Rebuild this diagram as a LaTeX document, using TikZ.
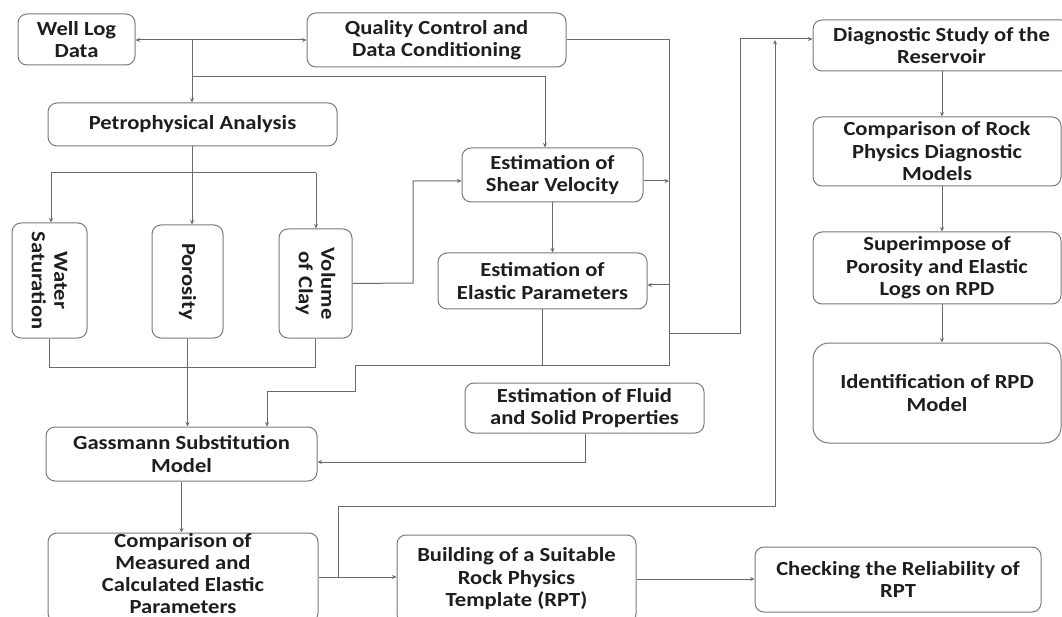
\documentclass[tikz,border=0pt]{standalone}
\usepackage{fontspec}
\setmainfont{Carlito}[FakeStretch=1.13]
\usetikzlibrary{arrows.meta}
\definecolor{bordc}{HTML}{7A7A7A}
\definecolor{linec}{HTML}{6A6A6A}
\definecolor{txtc}{HTML}{1E1E1E}
\newcommand\fsz{\fontsize{20}{22.5}\selectfont}
\tikzset{
  box/.style={draw=bordc, line width=1pt, rounded corners=9pt, inner sep=0pt, align=center, text=txtc, font=\fsz\bfseries},
  ln/.style={draw=linec, line width=1pt},
  arr/.style={ln, -{Stealth[length=4.5pt,width=4pt]}},
}
\newcommand\bx[7][]{\node[box,#1, minimum width={(#5-#3)*1pt}, minimum height={(#6-#4)*1pt}] (#2) at ({(#3+#5)/2},{(#4+#6)/2}) {#7};}
\begin{document}
\begin{tikzpicture}[x=1pt,y=-1pt]
\useasboundingbox (0,0) rectangle (1062,617);
\clip (0,0) rectangle (1062,617);
% boxes
\bx{wl}{18}{14}{135}{65}{Well Log\\Data}
\bx{qc}{307}{13}{566}{67}{Quality Control and\\Data Conditioning}
\bx{pa}{48}{103}{337}{146}{Petrophysical Analysis}
\bx{sv}{462}{148}{643}{202}{Estimation of\\Shear Velocity}
\bx{ep}{438}{253}{647}{309}{Estimation of\\Elastic Parameters}
\bx{fs}{465}{383}{704}{433}{Estimation of Fluid\\and Solid Properties}
\bx{gm}{46}{427}{317}{481}{Gassmann Substitution\\Model}
\bx[font=\fontsize{20}{22}\selectfont\bfseries, text depth=8pt]{cm}{48}{533}{318}{622}{Comparison of\\Measured and\\Calculated Elastic\\Parameters}
\bx{rpt}{397}{535}{636}{623}{Building of a Suitable\\Rock Physics\\Template (RPT)}
\bx{chk}{755}{547}{1041}{612}{Checking the Reliability of\\RPT}
\bx{ds}{813}{20}{1070}{71}{Diagnostic Study of the\\Reservoir}
\bx{cr}{813}{117}{1061}{186}{Comparison of Rock\\Physics Diagnostic\\Models}
\bx{si}{813}{232}{1061}{304}{Superimpose of\\Porosity and Elastic\\Logs on RPD}
\bx[rounded corners=16pt]{id}{813}{343}{1061}{443}{Identification of RPD\\Model}
% rotated boxes
\node[box, rotate=-90, minimum width=115pt, minimum height=75pt] (ws) at (49.5,280.5) {Water\\Saturation};
\node[box, rotate=-90, minimum width=113pt, minimum height=71pt] (po) at (187.5,281.5) {Porosity};
\node[box, rotate=-90, minimum width=109pt, minimum height=73pt] (vc) at (315.5,283.5) {Volume\\of Clay};
% coordinates
\coordinate (j1) at (192,40);
\coordinate (j2) at (545,77);
\coordinate (k1) at (669,40);
\coordinate (k2) at (669,285);
\coordinate (k3) at (669,181);
\coordinate (k4) at (669,365);
\coordinate (k5) at (669,333);
\coordinate (m1) at (355,365);
\coordinate (m2) at (355,391);
\coordinate (m3) at (267,391);
\coordinate (d1) at (740,333);
\coordinate (d2) at (740,39);
\coordinate (r1) at (338,577);
\coordinate (r2) at (338,506);
\coordinate (r3) at (775,506);
\coordinate (r4) at (775,40);
\coordinate (p0) at (51,173);
\coordinate (p1) at (192,173);
\coordinate (p2) at (316,173);
\coordinate (q) at (0,367);
\coordinate (v1) at (413,283);
\coordinate (v2) at (413,181);
\coordinate (f1) at (585,462);
\coordinate (rc) at (942,0);
% connectors
\draw[arr] (j1) -- (wl.east |- j1);
\draw[arr] (j1) -- (qc.west |- j1);
\draw[arr] (j1) -- (j1 |- pa.north);
\draw[arr] (j1 |- j2) -- (j2) -- (j2 |- sv.north);
\draw[arr] (qc.east |- k1) -- (k1) -- (k2) -- (k2 -| ep.east);
\draw[arr] (k3 -| sv.east) -- (k3);
\draw[ln] (k2) -- (k4) -- (m1) -- (m2) -- (m3);
\draw[arr] (m3) -- (m3 |- gm.north);
\draw[ln] (ep.south) -- (ep.south |- k4);
\draw[arr] (k5) -- (d1) -- (d2) -- (d2 -| ds.west);
\draw[arr] (cm.east |- r1) -- (r1 -| rpt.west);
\draw[arr] (r1) -- (r2) -- (r3) -- (r4);
\draw[arr] (rpt.east) -- (rpt.east -| chk.west);
\draw[ln] (pa.south -| p1) -- (p1);
\draw[ln] (p0) -- (p2);
\draw[arr] (p0) -- (p0 |- ws.west);
\draw[arr] (p1) -- (p1 |- po.west);
\draw[arr] (p2) -- (p2 |- vc.west);
\draw[ln] (ws.east) -- (ws.east |- q) -- (vc.east |- q) -- (vc.east);
\draw[arr] (po.east) -- (po.east |- gm.north);
\draw[arr] (vc.north) -- (v1) -- (v2) -- (v2 -| sv.west);
\draw[arr] (sv.south) -- (sv.south |- ep.north);
\draw[arr] (fs.south -| f1) -- (f1) -- (f1 -| gm.east);
\draw[arr] (gm.south) -- (gm.south |- cm.north);
\draw[arr] (ds.south -| rc) -- (cr.north -| rc);
\draw[arr] (cr.south -| rc) -- (si.north -| rc);
\draw[arr] (si.south -| rc) -- (id.north -| rc);
\end{tikzpicture}
\end{document}
